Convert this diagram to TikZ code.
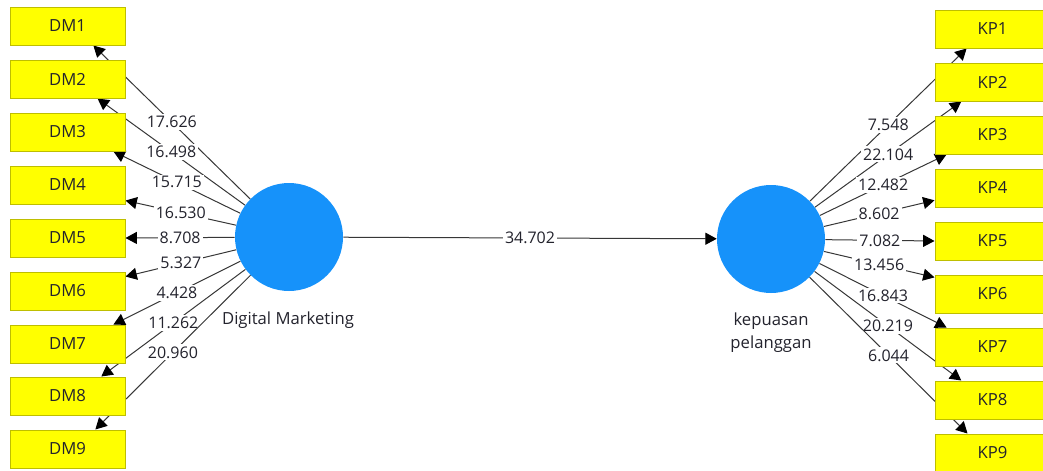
\documentclass[tikz,border=0pt]{standalone}
\usepackage{fontspec}
\setmainfont{Open Sans}
\usetikzlibrary{arrows.meta,backgrounds}
\definecolor{boxyellow}{RGB}{255,255,0}
\definecolor{boxborder}{RGB}{190,190,0}
\definecolor{lvblue}{RGB}{22,146,250}
\definecolor{linegray}{RGB}{55,55,55}
\definecolor{txt}{RGB}{35,35,45}
\begin{document}
\begin{tikzpicture}[x=0.75pt,y=-0.75pt,
 ind/.style={rectangle, draw=boxborder, fill=boxyellow, line width=0.75pt, minimum width=86.25pt, minimum height=28.5pt, inner sep=0pt, font=\fontsize{12.5}{14}\selectfont, text=txt},
 lv/.style={circle, fill=lvblue, minimum size=81pt, inner sep=0pt},
 conn/.style={draw=linegray, line width=0.75pt, -{Triangle[length=8.5pt,width=9pt,color=black]}},
 val/.style={fill=white, inner sep=1.5pt, font=\fontsize{12}{13}\selectfont, text=txt},
 lvtext/.style={font=\fontsize{12.5}{17}\selectfont, text=txt, align=center}]
\useasboundingbox (0,0) rectangle (1043,471);
\node[lv] (dm) at (289,237) {};
\node[lv] (kp) at (771,239) {};
\node[lvtext] (dmlab) at (288,320) {Digital Marketing};
\node[lvtext] (kplab) at (771,333) {kepuasan\\pelanggan};
\foreach \i/\y in {1/26,2/79,3/132,4/185,5/238,6/291,7/344,8/396,9/449}
  \node[ind] (DM\i) at (67.5,\y) {DM\i};
\foreach \i/\y in {1/29,2/82,3/135,4/188,5/241,6/294,7/347,8/400,9/453}
  \node[ind] (KP\i) at (992.5,\y) {KP\i};
\begin{scope}[on background layer]
\foreach \i/\a/\v in {1/-37/17.626,2/-33/16.498,3/-23/15.715,4/-15/16.530,5/0/8.708,6/14/5.327,7/23/4.428,8/30/11.262,9/35/20.960}
  \draw[conn] (dm) -- (DM\i.\a) node[val,midway] {\v};
\foreach \i/\a/\v in {1/217/7.548,2/212/22.104,3/203/12.482,4/192/8.602,5/180/7.082,6/164/13.456,7/157/16.843,8/148/20.219,9/142/6.044}
  \draw[conn] (kp) -- (KP\i.\a) node[val,midway] {\v};
\draw[conn] (dm) -- (kp) node[val,midway] {34.702};
\end{scope}
\end{tikzpicture}
\end{document}
